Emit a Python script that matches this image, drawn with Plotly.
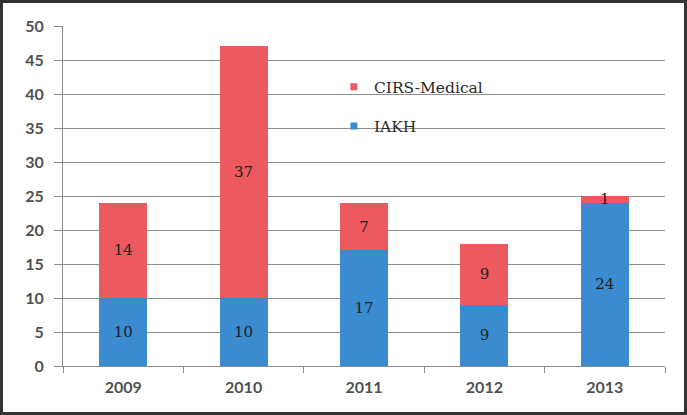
import plotly.graph_objects as go

years = ["2009", "2010", "2011", "2012", "2013"]
iakh = [10, 10, 17, 9, 24]
cirs = [14, 37, 7, 9, 1]
y_ticks = [0, 5, 10, 15, 20, 25, 30, 35, 40, 45, 50]

W, H = 687, 415
ML, MR, MT, MB = 63, 22, 26, 49
PW, PH = W - ML - MR, H - MT - MB

BLUE = "#3a8bd0"
RED = "#ec5a5f"
label_font = dict(family="DejaVu Serif", size=15, color="#222222")

fig = go.Figure()
fig.add_trace(go.Bar(x=years, y=iakh, name="IAKH", marker=dict(color=BLUE, line=dict(width=0)),
                     text=[str(v) for v in iakh], textposition="inside", insidetextanchor="middle",
                     textangle=0, constraintext="none", textfont=label_font, showlegend=False))
fig.add_trace(go.Bar(x=years, y=cirs, name="CIRS-Medical", marker=dict(color=RED, line=dict(width=0)),
                     text=[str(v) for v in cirs], textposition="inside", insidetextanchor="middle",
                     textangle=0, constraintext="none", textfont=label_font, showlegend=False))
# legend proxies (small square keys)
fig.add_trace(go.Scatter(x=[None], y=[None], mode="markers", name="CIRS-Medical", legendgroup="a",
                         marker=dict(symbol="square", size=7, color=RED)))
fig.add_trace(go.Scatter(x=[None], y=[None], mode="markers", name="IAKH", legendgroup="b",
                         marker=dict(symbol="square", size=7, color=BLUE)))

tick_font = dict(family="Lato", size=16, color="#505050", weight="bold")
fig.update_layout(
    width=W, height=H,
    margin=dict(l=ML, r=MR, t=MT, b=MB),
    barmode="stack", bargap=0.6,
    plot_bgcolor="white", paper_bgcolor="white",
    uniformtext=dict(mode=False),
    legend=dict(x=0.45, y=0.87, xanchor="left", yanchor="top", traceorder="grouped",
                tracegroupgap=16, itemwidth=30, bgcolor="rgba(0,0,0,0)",
                font=dict(family="DejaVu Serif", size=15.5, color="#2a2a2a")),
    xaxis=dict(showline=True, linecolor="#8c8c8c", linewidth=1, ticks="outside", tickson="boundaries",
               ticklen=6, tickcolor="#8c8c8c", tickfont=tick_font, showgrid=False,
               ticklabelstandoff=7),
    yaxis=dict(range=[0, 50], tickvals=y_ticks, showline=True, linecolor="#8c8c8c", linewidth=1,
               ticks="outside", ticklen=8, tickcolor="#8c8c8c", tickfont=tick_font,
               showgrid=True, gridcolor="#8c8c8c", gridwidth=1, zeroline=False,
               ticklabelstandoff=7),
    shapes=[dict(type="rect", xref="paper", yref="paper",
                 x0=-(ML - 1.5) / PW, x1=1 + (MR - 1.5) / PW,
                 y0=-(MB - 1.5) / PH, y1=1 + (MT - 1.5) / PH,
                 line=dict(color="#333333", width=3), layer="above")],
)
fig.write_html("out.html", config={"displayModeBar": False},
               post_script="document.body.style.margin='0';")
